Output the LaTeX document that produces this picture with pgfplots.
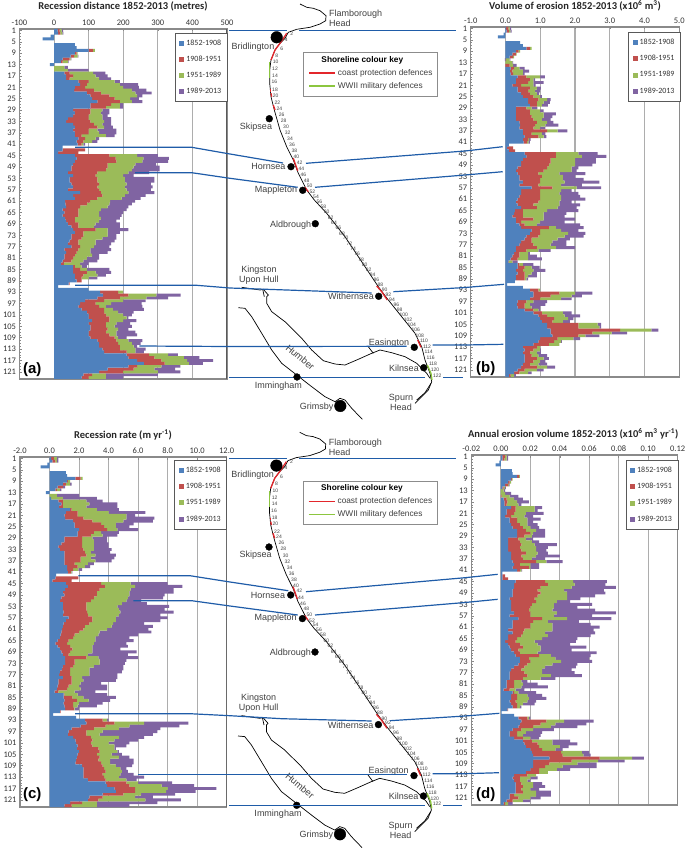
\documentclass[border=0pt]{standalone}
\usepackage{fontspec}
\usepackage{pgfplots}
\usepackage{pgfplotstable}
\pgfplotsset{compat=1.18}
\setmainfont{Carlito}
\newfontfamily\mapfont{Liberation Sans}

\definecolor{cblue}{HTML}{4F81BD}
\definecolor{cred}{HTML}{C0504D}
\definecolor{cgreen}{HTML}{9BBB59}
\definecolor{cpurple}{HTML}{8064A2}
\definecolor{linkc}{HTML}{1F5CA8}
\definecolor{gridc}{HTML}{ADADAD}
\definecolor{axisc}{HTML}{8A8A8A}
\definecolor{txt}{HTML}{333333}
\definecolor{shorered}{HTML}{E3262B}
\definecolor{shoregreen}{HTML}{8CC63F}

% (a) recession distance per period, metres
\pgfplotstableread{
n p1 p2 p3 p4
1 10 6 6 4
2 12 6 6 3
3 -10 0 0 0
4 -33 0 0 0
5 0 0 0 0
6 60 0 0 0
7 65 0 0 0
8 100 12 6 0
9 60 5 3 0
10 48 10 10 2
11 25 20 3 2
12 20 5 15 2
13 -12 0 0 0
14 0 0 30 10
15 0 0 40 60
16 30 15 68 35
17 35 20 65 35
18 35 10 85 35
19 70 30 75 15
20 75 20 95 53
21 60 30 110 45
22 58 57 110 42
23 95 40 100 47
24 105 55 80 15
25 110 65 45 25
26 125 65 35 30
27 105 60 25 10
28 105 45 40 10
29 55 50 35 20
30 60 45 30 25
31 55 45 40 15
32 40 60 40 25
33 35 70 40 20
34 55 60 25 25
35 60 65 20 25
36 55 45 25 55
37 60 40 30 50
38 60 20 70 25
39 70 20 30 10
40 65 20 25 15
41 68 12 5 5
42 25 0 0 0
43 25 65 0 0
44 12 58 0 0
45 60 100 80 60
46 65 113 80 74
47 60 120 75 75
48 55 100 80 60
49 50 105 75 75
50 50 100 75 80
51 40 85 90 60
52 55 65 80 30
53 45 80 80 85
54 45 80 80 85
55 50 80 80 70
56 55 70 80 80
57 40 90 80 70
58 75 60 80 75
59 55 85 65 60
60 60 65 70 55
61 32 72 58 72
62 33 62 65 65
63 35 40 80 60
64 25 45 65 75
65 30 40 60 70
66 25 45 60 65
67 32 28 75 55
68 35 25 70 50
69 40 30 50 70
70 50 20 45 75
71 55 65 35 60
72 60 25 70 35
73 50 35 70 25
74 50 30 60 40
75 45 25 50 55
76 40 30 50 45
77 50 25 40 45
78 30 40 35 60
79 35 30 40 50
80 30 30 50 20
81 30 25 40 35
82 25 25 35 40
83 20 8 47 25
84 55 5 20 15
85 55 20 20 65
86 55 40 25 45
87 60 25 40 25
88 60 20 20 25
89 65 15 0 0
90 42 3 0 0
91 12 0 0 0
92 100 0 0 0
93 133 52 15 0
94 142 73 81 70
95 125 65 77 63
96 90 55 55 65
97 75 45 45 88
98 70 60 20 105
99 80 65 25 90
100 95 50 40 45
101 100 50 50 25
102 100 60 50 5
103 110 50 40 38
104 100 50 30 40
105 105 45 25 50
106 105 50 30 30
107 100 50 30 55
108 100 60 20 60
109 105 70 10 25
110 125 55 35 40
111 130 55 40 25
112 130 60 40 10
113 140 50 45 30
114 145 65 25 25
115 210 65 55 28
116 215 75 85 45
117 240 70 75 75
118 260 60 70 40
119 215 25 70 55
120 155 75 60 60
121 130 70 100 65
122 85 25 40 150
123 80 20 50 50
}\tabdist

% (b) volume of erosion per period, 10^6 m3
\pgfplotstableread{
n p1 p2 p3 p4
1 0.02 0.06 0.04 0.04
2 0.03 0.07 0.04 0.04
3 -0.05 0 0 0
4 -0.22 0 0 0
5 0 0 0 0
6 0.42 0 0 0
7 0.5 0 0 0
8 0.6 0.1 0.05 0
9 0.3 0.08 0.04 0
10 0.2 0.1 0.02 0
11 0.12 0.1 0.03 0
12 -0.02 0.02 0.1 0.02
13 0 0 0.2 0.02
14 0 0.12 0.1 0.1
15 0.15 0.1 0.15 0.15
16 0.13 0.07 0.3 0.18
17 0.15 0.07 0.28 0.05
18 0.35 0.25 0.4 0.13
19 0.3 0.4 0.1 0.05
20 0.3 0.35 0.15 0.3
21 0.2 0.25 0.35 0.07
22 0.35 0.35 0.2 0.12
23 0.35 0.3 0.2 0.15
24 0.45 0.25 0.2 0.07
25 0.5 0.3 0.2 0.05
26 0.65 0.3 0.25 0.1
27 0.65 0.25 0.2 0.18
28 0.7 0.2 0.15 0.17
29 0.3 0.3 0.15 0.17
30 0.3 0.4 0.3 0.1
31 0.3 0.4 0.4 0.35
32 0.3 0.45 0.35 0.25
33 0.3 0.5 0.25 0.25
34 0.4 0.5 0.3 0.18
35 0.42 0.43 0.3 0.37
36 0.4 0.4 0.2 0.15
37 0.5 0.7 0.3 0.28
38 0.5 0.25 0.3 0.1
39 0.55 0.4 0.15 0.08
40 0.5 0.15 0.03 0.04
41 0.52 0.1 0.04 0.04
42 0.1 0 0 0
43 0.05 0.17 0 0
44 0.1 0.18 0 0
45 0.55 0.9 0.65 0.55
46 0.6 0.85 0.75 0.7
47 0.5 0.8 0.7 0.6
48 0.45 0.85 0.7 0.6
49 0.45 0.8 0.75 0.5
50 0.35 0.85 0.7 0.2
51 0.3 0.8 0.8 0.15
52 0.35 0.6 0.6 0.75
53 0.4 0.65 0.6 0.35
54 0.4 0.6 0.65 0.6
55 0.5 0.5 0.7 1.0
56 0.4 0.55 0.65 0.6
57 0.75 0.6 0.7 0.7
58 0.45 0.55 0.6 0.3
59 0.45 0.55 0.55 0.55
60 0.4 0.6 0.6 0.55
61 0.35 0.65 0.6 0.7
62 0.3 0.65 0.6 0.35
63 0.35 0.45 0.75 0.6
64 0.45 0.45 0.6 0.55
65 0.27 0.23 0.7 0.9
66 0.25 0.25 0.6 0.65
67 0.2 0.3 0.6 0.6
68 0.3 0.5 0.3 0.9
69 0.3 0.15 0.55 0.7
70 0.4 0.15 0.35 1.25
71 0.45 0.8 0.2 0.8
72 0.75 0.25 0.6 0.5
73 0.7 0.3 0.8 0.5
74 0.6 0.35 0.75 0.55
75 0.55 0.2 0.75 0.35
76 0.45 0.3 0.6 0.4
77 0.4 0.4 0.5 0.45
78 0.3 0.6 0.55 0.55
79 0.3 0.3 0.35 0.35
80 0.25 0.15 0.25 0.05
81 0.2 0.2 0.25 0.25
82 0.15 0.2 0.3 0.4
83 0.08 0.02 0.1 0.15
84 0.35 0.05 0.1 0.3
85 0.35 0.2 0.2 0.23
86 0.3 0.2 0.3 0.35
87 0.35 0.2 0.2 0.15
88 0.3 0.25 0.1 0.25
89 0.3 0.25 0.05 0.05
90 0.27 0 0 0
91 0.05 0 0 0
92 0.5 0 0 0
93 0.7 0.25 0.05 0
94 0.8 0.75 0.45 0.5
95 0.8 0.5 0.6 0.3
96 0.7 0.3 0.6 0.3
97 0.35 0.25 0.2 0.4
98 0.33 0.22 0.15 0.45
99 0.35 0.2 0.2 0.25
100 0.55 0.25 0.15 0.05
101 0.8 0.25 0.6 0.25
102 0.95 0.25 0.5 0.45
103 1.0 0.4 0.4 0.15
104 1.05 0.3 0.3 0.2
105 1.2 0.9 0.55 0.1
106 1.2 0.9 0.6 0.05
107 1.3 2.0 0.9 0.2
108 1.3 1.2 0.55 0.45
109 1.35 0.75 0.2 0.4
110 1.0 0.5 0.45 0.2
111 0.95 0.45 0.2 0.02
112 0.8 0.45 0.3 0
113 0.5 0.4 0.1 0
114 0.55 0.25 0.2 0.02
115 0.5 0.2 0.2 0.12
116 0.55 0.2 0.2 0.25
117 0.55 0.35 0.2 0.15
118 0.55 0.25 0.2 0.15
119 0.5 0.2 0.25 0.25
120 0.45 0.45 0.3 0.23
121 0.35 0.2 0.35 0.2
122 0.25 0.15 0.25 0.1
123 0.1 0.05 0.1 0.05
}\tabvol

% (c) recession rate per period, m/yr
\pgfplotstableread{
n p1 p2 p3 p4
1 0.1 0.2 0.2 0.1
2 0.2 0.2 0.1 0.1
3 -0.15 0 0 0
4 -0.6 0 0 0
5 0 0 0 0
6 1.1 0 0 0
7 1.2 0 0 0
8 1.75 0.35 0.15 0
9 1.2 0.05 0.15 0
10 0.9 0.2 0.3 0.1
11 0.55 0.35 0 0.15
12 0.4 0.1 0.2 0.1
13 -0.25 0 0 0
14 0 0 0.5 1.5
15 0.1 0 0.8 2.3
16 0.6 0.3 1.6 1.1
17 0.8 0.1 1.8 1.9
18 0.65 0.25 1.6 2.1
19 1.4 0.1 1.7 1.5
20 1.1 0.8 2.1 2.5
21 1.0 0.9 3.3 0.6
22 1.05 1.25 2.9 1.9
23 1.6 1.3 2.1 2.0
24 1.7 1.8 1.0 1.2
25 1.7 2.0 0.8 0.9
26 2.0 1.9 0.7 1.4
27 1.9 1.1 0.5 1.2
28 1.9 0.9 0.8 1.0
29 1.0 1.2 0.7 1.0
30 1.0 1.2 0.8 0.9
31 0.8 1.4 0.8 1.0
32 0.6 1.6 0.8 1.0
33 0.7 1.6 0.7 1.2
34 1.0 1.4 0.4 1.3
35 1.0 1.5 0.6 1.4
36 1.0 1.1 0.7 1.6
37 1.0 1.1 1.0 1.1
38 1.0 0.7 0.9 0.4
39 1.2 0.7 0.5 0.35
40 1.2 0.4 0.35 0.25
41 1.25 0.2 0.05 0.05
42 0.45 0 0 0
43 0.4 1.55 0 0
44 0.2 1.3 0 0
45 1.1 2.4 2.0 2.5
46 1.25 2.5 2.05 3.2
47 1.05 2.35 2.1 2.9
48 0.9 2.3 2.2 3.0
49 1.0 2.2 2.2 2.4
50 0.8 2.2 2.3 2.4
51 0.7 2.1 2.4 1.0
52 0.9 1.6 2.4 1.7
53 0.9 1.6 2.1 3.5
54 0.9 1.6 2.2 3.1
55 0.95 1.6 2.25 3.6
56 0.9 1.7 2.1 2.8
57 1.3 1.6 1.6 3.5
58 1.1 1.8 1.6 3.0
59 0.95 1.75 1.6 2.1
60 0.9 1.5 1.8 2.8
61 0.85 1.45 1.6 2.8
62 0.8 1.2 1.4 3.5
63 0.75 0.95 1.6 2.7
64 0.7 0.9 1.5 2.3
65 0.55 0.75 1.8 2.6
66 0.4 0.8 1.8 2.2
67 0.55 0.85 1.5 2.4
68 0.7 0.85 1.35 1.9
69 0.8 0.6 1.5 3.0
70 0.9 0.4 1.3 2.7
71 1.05 1.45 0.8 2.7
72 1.05 0.65 1.7 1.8
73 1.05 0.65 1.7 1.7
74 0.9 0.7 1.4 2.0
75 0.85 0.55 1.3 2.3
76 0.7 0.7 1.3 2.2
77 0.65 0.75 1.3 1.9
78 0.9 0.6 0.7 2.4
79 0.6 0.9 0.8 2.2
80 0.6 0.9 0.6 1.4
81 0.55 0.75 0.7 1.9
82 0.5 0.7 0.9 1.8
83 0.35 0.25 1.1 1.4
84 0.95 0.05 0.9 2.0
85 0.95 0.6 0.75 2.2
86 1.0 0.85 0.8 1.45
87 0.95 0.65 0.4 1.6
88 1.0 0.6 0.3 1.3
89 1.05 0.6 0.05 0.3
90 0.7 0.05 0 0
91 0.25 0 0 0
92 1.8 0 0 0
93 2.4 1.2 0.3 0.1
94 2.5 1.9 2.0 3.0
95 2.1 1.7 1.6 3.4
96 1.5 1.5 1.7 2.8
97 1.3 1.2 1.1 3.7
98 1.25 1.25 0.9 3.6
99 1.6 1.2 1.9 1.7
100 1.75 1.15 1.5 1.6
101 1.8 1.0 1.2 1.4
102 1.9 1.0 1.5 0.8
103 1.85 1.45 1.1 0.1
104 2.0 1.4 1.2 0.1
105 1.9 1.3 1.0 0.7
106 1.85 1.55 1.3 0.7
107 1.8 1.5 0.8 1.6
108 1.75 1.75 0.6 1.6
109 2.2 1.4 0.9 1.1
110 2.3 1.4 1.1 0.4
111 2.3 1.5 1.1 0.4
112 2.3 1.3 1.2 0.9
113 2.3 1.4 1.0 1.7
114 2.6 1.2 1.4 0.7
115 3.8 1.4 0.8 2.3
116 3.9 1.5 2.2 2.2
117 4.4 1.4 2.2 3.3
118 4.5 1.3 2.1 2.0
119 3.6 1.4 1.2 2.3
120 2.7 0.9 2.2 1.2
121 2.6 0.7 3.2 2.4
122 1.4 0.8 1.0 4.1
123 1.0 0.5 1.7 2.2
}\tabrate

% (d) annual erosion volume per period, 10^6 m3/yr
\pgfplotstableread{
n p1 p2 p3 p4
1 0.001 0.002 0.001 0.001
2 0.001 0.0015 0.0015 0.001
3 -0.001 0 0 0
4 -0.0035 0 0 0
5 0 0 0 0
6 0.0075 0 0 0
7 0.008 0 0 0
8 0.011 0.0015 0.0005 0
9 0.007 0.0005 0.0005 0
10 0.005 0.001 0.001 0
11 0.003 0.002 0.0005 0.0005
12 0.001 0.001 0.001 0.0005
13 0 0 0.002 0.001
14 0 0 0.003 0.004
15 0 0.0005 0.0055 0.006
16 0.002 0.002 0.005 0.006
17 0.0025 0.002 0.0065 0.008
18 0.0025 0.0015 0.008 0.002
19 0.007 0.003 0.013 0.005
20 0.004 0.006 0.013 0.002
21 0.004 0.005 0.008 0.012
22 0.003 0.004 0.009 0.006
23 0.006 0.005 0.007 0.009
24 0.006 0.005 0.007 0.004
25 0.007 0.006 0.005 0.007
26 0.008 0.007 0.005 0.006
27 0.011 0.006 0.007 0.006
28 0.011 0.009 0.002 0.008
29 0.011 0.005 0.005 0.009
30 0.005 0.007 0.005 0.005
31 0.005 0.008 0.008 0.005
32 0.005 0.009 0.009 0.015
33 0.005 0.008 0.011 0.008
34 0.005 0.009 0.010 0.007
35 0.007 0.010 0.008 0.007
36 0.007 0.007 0.010 0.016
37 0.007 0.008 0.006 0.009
38 0.008 0.016 0.007 0.011
39 0.009 0.004 0.007 0.006
40 0.008 0.011 0.001 0.006
41 0.011 0.002 0.001 0.0005
42 0.001 0 0 0
43 0.001 0.002 0 0
44 0.001 0.004 0 0
45 0.010 0.020 0.019 0.023
46 0.009 0.023 0.018 0.021
47 0.009 0.018 0.021 0.030
48 0.008 0.017 0.018 0.027
49 0.008 0.019 0.018 0.026
50 0.008 0.017 0.020 0.019
51 0.006 0.017 0.022 0.009
52 0.007 0.017 0.014 0.009
53 0.007 0.014 0.015 0.026
54 0.007 0.013 0.016 0.016
55 0.007 0.012 0.016 0.029
56 0.009 0.011 0.018 0.040
57 0.006 0.014 0.016 0.026
58 0.012 0.016 0.017 0.030
59 0.008 0.014 0.010 0.021
60 0.008 0.012 0.015 0.026
61 0.008 0.012 0.015 0.032
62 0.005 0.011 0.019 0.028
63 0.008 0.007 0.015 0.034
64 0.005 0.009 0.018 0.029
65 0.005 0.006 0.017 0.024
66 0.003 0.007 0.013 0.028
67 0.005 0.008 0.012 0.022
68 0.006 0.009 0.012 0.031
69 0.007 0.005 0.015 0.021
70 0.009 0.004 0.012 0.040
71 0.010 0.016 0.008 0.027
72 0.013 0.006 0.018 0.023
73 0.013 0.007 0.021 0.021
74 0.012 0.006 0.017 0.017
75 0.009 0.007 0.014 0.021
76 0.007 0.007 0.014 0.020
77 0.006 0.010 0.012 0.022
78 0.006 0.012 0.016 0.021
79 0.006 0.009 0.012 0.010
80 0.004 0.005 0.005 0.004
81 0.004 0.005 0.006 0.010
82 0.004 0.005 0.005 0.018
83 0.002 0.004 0.004 0.006
84 0.008 0.001 0.003 0.012
85 0.007 0.004 0.007 0.010
86 0.007 0.004 0.008 0.012
87 0.006 0.004 0.008 0.006
88 0.007 0.004 0.004 0.008
89 0.008 0.003 0.002 0.001
90 0.0045 0.0005 0 0
91 0.0005 0 0 0
92 0.009 0 0 0
93 0.012 0.006 0.001 0.001
94 0.014 0.017 0.012 0.020
95 0.013 0.014 0.010 0.021
96 0.012 0.010 0.012 0.018
97 0.008 0.006 0.008 0.014
98 0.006 0.005 0.006 0.011
99 0.006 0.005 0.004 0.012
100 0.009 0.006 0.005 0.006
101 0.015 0.006 0.014 0.012
102 0.016 0.009 0.010 0.017
103 0.017 0.009 0.014 0.006
104 0.020 0.008 0.009 0.005
105 0.021 0.020 0.014 0.005
106 0.022 0.020 0.014 0.005
107 0.033 0.034 0.022 0.008
108 0.022 0.026 0.018 0.018
109 0.022 0.011 0.019 0.013
110 0.022 0.008 0.012 0.023
111 0.020 0.006 0.012 0.009
112 0.017 0.009 0.006 0
113 0.009 0.009 0.006 0
114 0.008 0.005 0.007 0.005
115 0.009 0.004 0.005 0.002
116 0.010 0.004 0.008 0.006
117 0.010 0.005 0.007 0.008
118 0.010 0.004 0.006 0.006
119 0.010 0.005 0.009 0.010
120 0.006 0.003 0.015 0.010
121 0.006 0.006 0.008 0.007
122 0.004 0.004 0.007 0.005
123 0.002 0.001 0.002 0.003
}\tabann

% profile numbers along the coast (picture coordinates)
\pgfplotstableread{
x y l
291.7 33.7 2
286.3 39.3 4
281.7 48.3 6
276.7 55.3 8
275.7 62 10
275 69 12
275 75.7 14
274.3 82 16
275 89.3 18
275.7 95.7 20
277.3 103 22
279.3 108.7 24
281.7 114.7 26
283.7 120.3 28
286 127 30
287.7 133 32
290 139 34
292 145 36
294.3 151 38
296.3 157 40
299.7 162.7 42
301.3 169 44
303.3 175 46
306.7 180.7 48
309.7 186 50
312.3 192 52
316 196.7 54
319.3 201.7 56
323.3 206.7 58
326.7 212 60
330.7 217.3 62
334 223 64
338.3 228 66
342 233.3 68
345.7 238 70
349.3 244 72
353 249 74
357 254 76
361 259.3 78
364.7 264.3 80
368.7 269.3 82
372.7 274.7 84
376.3 279.7 86
380.3 284.7 88
384.7 290 90
388.3 294.7 92
392 299.7 94
396.3 304.7 96
399.7 310 98
403.7 315 100
408 320 102
411.7 325 104
415.7 330 106
419.7 335.3 108
424 340.7 110
427 346.3 112
428.7 352 114
430.7 358 116
433 364 118
435 370 120
437.3 375.7 122
}\coastlabels

\tikzset{maptxt/.style={font=\mapfont\fontsize{9}{10}\selectfont, text=black!75, inner sep=0pt, align=center}}

\pgfplotsset{
  panel/.style={
    scale only axis, anchor=south west,
    y dir=reverse, ymin=0.5, ymax=123.5,
    xbar stacked, bar width=2.95pt,
    ytick={1,5,...,121}, minor y tick num=3,
    ytick pos=left, xtick pos=upper, xticklabel pos=upper,
    xmajorgrids, grid style={gridc, line width=1.1pt},
    axis line style={axisc, line width=1.1pt},
    tick style={axisc, line width=0.5pt},
    major tick length=2.5pt, minor tick length=1.6pt,
    tick label style={font=\fontsize{8.5}{9}\selectfont, text=txt},
    /pgf/number format/assume math mode=true,
    /pgf/number format/1000 sep={},
    legend cell align=left,
    legend image code/.code={\fill[##1] (0pt,-2.5pt) rectangle (5pt,2.5pt);},
    legend style={font=\fontsize{8}{8}\selectfont, text=txt, draw=black!65, line width=0.9pt,
      anchor=north west, row sep=5.2pt, inner xsep=4pt, inner ysep=4.5pt, fill=white},
  },
  canvas/.style={
    scale only axis, anchor=south west, width=685pt, height=849pt,
    xmin=0, xmax=685, ymin=0, ymax=849, y dir=reverse, hide axis, clip=false,
  },
  linkline/.style={linkc, line width=1.2pt, no marks},
  coastl/.style={black, line width=0.7pt, no marks},
  redshore/.style={shorered, line width=1.3pt, no marks},
  greenshore/.style={shoregreen, line width=1.3pt, no marks},
  town/.style={only marks, mark=*, mark options={black, fill=black}},
}

\newcommand{\bars}[1]{
  \addplot[draw=none, fill=cblue] table[x=p1, y=n] {#1};
  \addplot[draw=none, fill=cred] table[x=p2, y=n] {#1};
  \addplot[draw=none, fill=cgreen] table[x=p3, y=n] {#1};
  \addplot[draw=none, fill=cpurple] table[x=p4, y=n] {#1};
  \legend{1852-1908,1908-1951,1951-1989,1989-2013}
}

% coast, estuary, towns and key; used for both map panels
\newcommand{\drawmap}{
  \addplot[coastl] coordinates {(300,4)(306.7,7.3)(313.3,8.3)(320,10.7)(326,15.7)(325.7,20.7)(320,24)(310,27.3)(296.7,29.3)(288.3,32.3)(285,38.3)(280,43.3)(275,50)(271,60)(269.7,70)(269.7,83.3)(271,96.7)(274.3,110)(280,130)(286.7,146.7)(293.3,160)(298.3,173.3)(306.7,190)(314.3,200)(326.7,213.3)(345,236.7)(365,266.7)(378.3,286.7)(388.3,300)(401.7,316.7)(415,333.3)(421.7,346.7)(425,360)(430,373.3)(431.7,381.7)(428.3,390)(421.7,396.7)(415,403.3)};
  \addplot[coastl] coordinates {(431,383.3)(425,392.7)(416.7,400)};
  \addplot[coastl] coordinates {(241.7,287.3)(260,290)(263.3,289.3)(268.3,295)(266.7,296.7)(266.7,303.3)(271.7,311.7)(285,321.7)(301.7,338.3)(311.7,350)(323.3,360.7)(335,364)(345,365)(358.3,359.3)(371.7,353.3)(380,350)(391.7,352.7)(405,356.7)(416.7,363.3)(426.7,373.3)(430,378.3)};
  \addplot[coastl] coordinates {(368.3,346.7)(373.3,353.3)};
  \addplot[coastl] coordinates {(262.7,289.3)(264.3,296.7)};
  \addplot[coastl] coordinates {(238.3,307.7)(245,308.3)(251.7,316.7)(261.7,333.3)(271.7,350)(281.7,363.3)(296.7,375)(311.7,386.7)(325,396.7)(335,401.7)(340,398.3)(345,400)(351.7,408.3)(362.3,419.3)};
  % defended stretches of shoreline
  \addplot[redshore] coordinates {(286.7,33.3)(280,43.3)(275,50)(271,60)};
  \addplot[redshore] coordinates {(270.7,89.3)(270.7,91.7)};
  \addplot[redshore] coordinates {(271,93.3)(271.7,96.7)};
  \addplot[redshore] coordinates {(273.3,105)(275,110)};
  \addplot[redshore] coordinates {(293.3,158.3)(297.7,170.7)};
  \addplot[redshore] coordinates {(305,187.3)(308.3,191.7)};
  \addplot[redshore] coordinates {(376.7,286)(381.7,291.7)(387.3,300)};
  \addplot[redshore] coordinates {(417.7,340)(421,347.3)};
  \addplot[greenshore] coordinates {(269.7,62.3)(269.7,78.3)};
  \addplot[greenshore] coordinates {(427.3,365)(431,373.3)(432,380)};
  % towns
  \addplot[town, mark size=5.8pt] coordinates {(276.7,37.3)(340.3,406)};
  \addplot[town, mark size=3.4pt] coordinates {(269.3,118.7)(291,166.7)(302.7,190.3)(315.3,223.7)(378.7,296.3)(414.3,347.3)(423.7,367.7)(297,377)};
  % profile numbers
  \addplot[only marks, mark=none, point meta=explicit symbolic, nodes near coords,
    nodes near coords style={font=\mapfont\fontsize{5}{5}\selectfont, text=black!75, anchor=center, inner sep=0pt}]
    table[x=x, y=y, meta=l] {\coastlabels};
  % place names
  \node[maptxt, align=left, anchor=west] at (axis cs:329,18.7) {Flamborough\\Head};
  \node[maptxt] at (axis cs:253,47.3) {Bridlington};
  \node[maptxt] at (axis cs:256,127) {Skipsea};
  \node[maptxt] at (axis cs:268.3,166.7) {Hornsea};
  \node[maptxt] at (axis cs:276,190.3) {Mappleton};
  \node[maptxt] at (axis cs:290.7,224.7) {Aldbrough};
  \node[maptxt] at (axis cs:259,275) {Kingston\\Upon Hull};
  \node[maptxt] at (axis cs:351,296.7) {Withernsea};
  \node[maptxt, rotate=-40, font=\mapfont\fontsize{9.5}{10}\selectfont] at (axis cs:300.3,357.3) {Humber};
  \node[maptxt] at (axis cs:389,343.3) {Easington};
  \node[maptxt] at (axis cs:404,368.3) {Kilnsea};
  \node[maptxt] at (axis cs:278.3,386.3) {Immingham};
  \node[maptxt] at (axis cs:316.7,407.3) {Grimsby};
  \node[maptxt] at (axis cs:401,402.3) {Spurn\\Head};
  % shoreline key
  \addplot[draw=black!45, line width=0.8pt, fill=white, no marks] coordinates {(303.3,52.7)(437.3,52.7)(437.3,96)(303.3,96)(303.3,52.7)};
  \addplot[redshore] coordinates {(309,73)(335,73)};
  \addplot[greenshore] coordinates {(309,86)(335,86)};
  \node[maptxt, font=\mapfont\bfseries\fontsize{8.3}{9}\selectfont, text=black] at (axis cs:362.3,60.3) {Shoreline colour key};
  \node[maptxt, anchor=west, font=\mapfont\fontsize{8.3}{9}\selectfont] at (axis cs:337.7,73) {coast protection defences};
  \node[maptxt, anchor=west, font=\mapfont\fontsize{8.3}{9}\selectfont] at (axis cs:337.7,86) {WWII military defences};
}

\begin{document}
\begin{tikzpicture}[x=1pt, y=1pt]
\useasboundingbox (0pt,0pt) rectangle (685pt,849pt);

% (a)
\begin{axis}[panel, at={(19.5pt,470pt)}, width=207.5pt, height=350pt,
  xmin=-100, xmax=500, xtick={-100,0,...,500},
  legend style={at={(axis description cs:0.749,0.989)}}]
  \bars{\tabdist}
  \draw[black!65, line width=1.2pt] (rel axis cs:1,0) -- (rel axis cs:1,1);
\end{axis}

% (b)
\begin{axis}[panel, at={(470.7pt,472pt)}, width=208.6pt, height=350pt,
  xmin=-1, xmax=5, xtick={-1,0,...,5},
  xticklabel style={/pgf/number format/fixed, /pgf/number format/fixed zerofill, /pgf/number format/precision=1},
  legend style={at={(axis description cs:0.755,0.985)}}]
  \bars{\tabvol}
\end{axis}

% (c)
\begin{axis}[panel, at={(20pt,42pt)}, width=206.7pt, height=350pt,
  xmin=-2, xmax=12, xtick={-2,0,...,12},
  xticklabel style={/pgf/number format/fixed, /pgf/number format/fixed zerofill, /pgf/number format/precision=1},
  legend style={at={(axis description cs:0.747,0.991)}}]
  \bars{\tabrate}
  \draw[black!65, line width=1.2pt] (rel axis cs:1,0) -- (rel axis cs:1,1);
\end{axis}

% (d)
\begin{axis}[panel, at={(471.3pt,44pt)}, width=206.4pt, height=350pt,
  xmin=-0.02, xmax=0.12, xtick={-0.02,0,0.02,0.04,0.06,0.08,0.10,0.12},
  xticklabel style={/pgf/number format/fixed, /pgf/number format/fixed zerofill, /pgf/number format/precision=2},
  legend style={at={(axis description cs:0.748,0.985)}}]
  \bars{\tabann}
\end{axis}

% lower map: same drawing moved down the page
\begin{axis}[canvas, at={(-0.3pt,-428.3pt)}]
  \drawmap
\end{axis}

% upper map, link lines, titles and panel letters
\begin{axis}[canvas, at={(0pt,0pt)}]
  \drawmap
  % links, top map
  \addplot[linkline] coordinates {(229,30.7)(287,30.7)};
  \addplot[linkline] coordinates {(299,30.7)(456,30.7)};
  \addplot[linkline] coordinates {(75,147.3)(191.7,147.3)(230,154)(283,163)};
  \addplot[linkline] coordinates {(306,163.3)(465,151)(502.7,146.7)};
  \addplot[linkline] coordinates {(135,172.7)(191.7,172.7)(230,178.3)(297.7,187.3)};
  \addplot[linkline] coordinates {(315,187.3)(465,175)(502.7,171.7)};
  \addplot[linkline] coordinates {(75,285.3)(196.7,285.3)(230,288)(371.7,293)};
  \addplot[linkline] coordinates {(393.3,291.7)(465,287.5)(504,284.3)};
  \addplot[linkline] coordinates {(139.3,346)(230,346.5)(406.7,346.3)};
  \addplot[linkline] coordinates {(432.7,345)(465,345)(503.3,344.3)};
  \addplot[linkline] coordinates {(229,377.7)(425,377.7)};
  \addplot[linkline] coordinates {(443.3,377.7)(462.7,377.7)};
  % links, bottom map
  \addplot[linkline] coordinates {(229,458.7)(287,458.7)};
  \addplot[linkline] coordinates {(299,458.7)(455.7,458.7)};
  \addplot[linkline] coordinates {(78.3,575.7)(190,575.7)(230,582)(288.3,590.7)};
  \addplot[linkline] coordinates {(306,591.7)(465,577.7)(497.7,574.3)};
  \addplot[linkline] coordinates {(133.3,600.7)(191.7,600.7)(230,606)(297.7,615)};
  \addplot[linkline] coordinates {(315,615)(465,602.5)(497.7,599.3)};
  \addplot[linkline] coordinates {(75,713.7)(190,713.7)(230,715.7)(281.7,718.7)(371.7,721)};
  \addplot[linkline] coordinates {(390,720.7)(465,716)(499.3,713.3)};
  \addplot[linkline] coordinates {(138.3,774.7)(406.7,774.7)};
  \addplot[linkline] coordinates {(432.7,773.7)(465,773.7)(499,772.7)};
  \addplot[linkline] coordinates {(229,805.7)(425,805.7)};
  \addplot[linkline] coordinates {(443.3,805.7)(462.3,805.7)};
  % titles
  \node[font=\bfseries\fontsize{10.5}{11}\selectfont, text=black!85] at (axis cs:123,6.7) {Recession distance 1852-2013 (metres)};
  \node[font=\bfseries\fontsize{10.5}{11}\selectfont, text=black!85] at (axis cs:575,5.7) {Volume of erosion 1852-2013 (x10\textsuperscript{6} m\textsuperscript{3})};
  \node[font=\bfseries\fontsize{10.5}{11}\selectfont, text=black!85] at (axis cs:123,435) {Recession rate (m yr\textsuperscript{-1})};
  \node[font=\bfseries\fontsize{10.5}{11}\selectfont, text=black!85] at (axis cs:573.3,434) {Annual erosion volume 1852-2013 (x10\textsuperscript{6} m\textsuperscript{3} yr\textsuperscript{-1})};
  \node[font=\mapfont\bfseries\fontsize{15}{16}\selectfont] at (axis cs:32.3,369.3) {(a)};
  \node[font=\mapfont\bfseries\fontsize{15}{16}\selectfont] at (axis cs:485.7,369) {(b)};
  \node[font=\mapfont\bfseries\fontsize{15}{16}\selectfont] at (axis cs:32.3,795) {(c)};
  \node[font=\mapfont\bfseries\fontsize{15}{16}\selectfont] at (axis cs:485.7,794.3) {(d)};
\end{axis}
\end{tikzpicture}
\end{document}
